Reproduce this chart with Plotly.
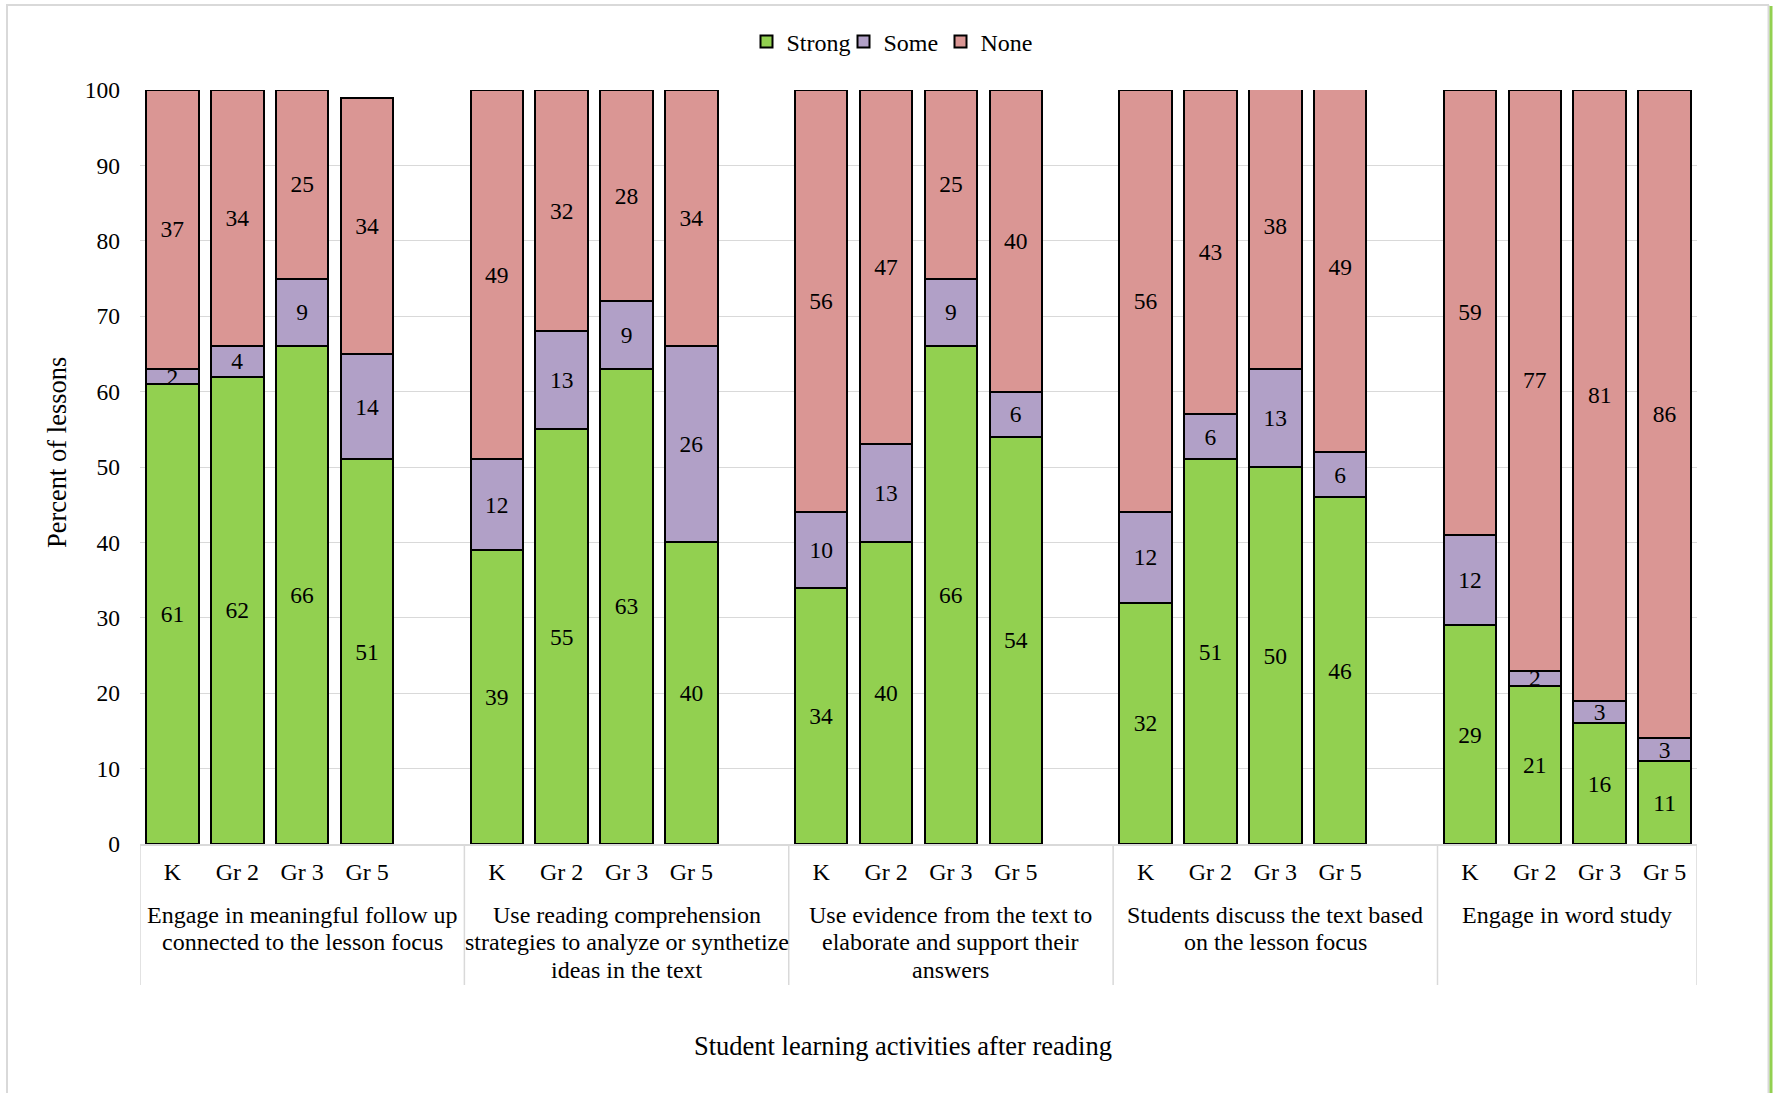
import plotly.graph_objects as go

# ---- data -------------------------------------------------------------
activities = [
    "Engage in meaningful follow up<br>connected to the lesson focus",
    "Use reading comprehension<br>strategies to analyze or synthetize<br>ideas in the text",
    "Use evidence from the text to<br>elaborate and support their<br>answers",
    "Students discuss the text based<br>on the lesson focus",
    "Engage in word study",
]
grades = ["K", "Gr 2", "Gr 3", "Gr 5"]

strong = [
    [61, 62, 66, 51],
    [39, 55, 63, 40],
    [34, 40, 66, 54],
    [32, 51, 50, 46],
    [29, 21, 16, 11],
]
some = [
    [2, 4, 9, 14],
    [12, 13, 9, 26],
    [10, 13, 9, 6],
    [12, 6, 13, 6],
    [12, 2, 3, 3],
]
none_ = [
    [37, 34, 25, 34],
    [49, 32, 28, 34],
    [56, 47, 25, 40],
    [56, 43, 38, 49],
    [59, 77, 81, 86],
]

series = [("Strong", strong, "#92D050"),
          ("Some", some, "#B1A0C7"),
          ("None", none_, "#DA9694")]

# ---- layout constants ---------------------------------------------------
W, H = 1777, 1093
ML, MR, MT, MB = 140, 80, 90, 249
PW, PH = W - ML - MR, H - MT - MB
FONT = "Liberation Serif"
GRID = "#D9D9D9"

def px_x(px):
    return (px - ML) / PW

def px_y(py):
    return (H - MB - py) / PH

# each group takes 4 slots plus one empty slot as a spacer
slot = 5
xs, ticktext = [], []
for g in range(len(activities)):
    for i, gr in enumerate(grades):
        xs.append(g * slot + i)
        ticktext.append(gr)
n_slots = len(activities) * slot - 1

fig = go.Figure()
for name, vals, color in series:
    flat = [v for row in vals for v in row]
    fig.add_trace(go.Bar(
        x=xs, y=flat, name=name,
        marker=dict(color=color, line=dict(color="black", width=2)),
        width=0.81,
        text=[str(v) for v in flat],
        textposition="inside", insidetextanchor="middle",
        textangle=0, constraintext="none",
        insidetextfont=dict(family=FONT, size=23.5, color="black"),
        hoverinfo="skip",
    ))

# boundaries of each group on the category axis
bounds = [-0.5 + min(g * slot, n_slots) for g in range(len(activities) + 1)]

shapes = []
# group dividers below the category axis
for xv in bounds:
    shapes.append(dict(type="line", xref="x", yref="paper",
                       x0=xv, x1=xv, y0=0, y1=px_y(985),
                       line=dict(color=GRID, width=1.5)))
# outer frame
shapes.append(dict(type="line", xref="paper", yref="paper",
                   x0=px_x(7), x1=px_x(7), y0=px_y(5), y1=px_y(H + 5),
                   line=dict(color=GRID, width=2)))
shapes.append(dict(type="line", xref="paper", yref="paper",
                   x0=px_x(6), x1=px_x(1769), y0=px_y(5), y1=px_y(5),
                   line=dict(color=GRID, width=2)))
shapes.append(dict(type="line", xref="paper", yref="paper",
                   x0=px_x(1768.5), x1=px_x(1768.5), y0=px_y(5), y1=px_y(H + 5),
                   line=dict(color=GRID, width=2)))
shapes.append(dict(type="line", xref="paper", yref="paper",
                   x0=px_x(1771), x1=px_x(1771), y0=px_y(6), y1=px_y(H + 5),
                   line=dict(color="#92D050", width=3)))

annotations = []
# group labels, one annotation per line for tighter leading
for g, label in enumerate(activities):
    cx = (bounds[g] + bounds[g + 1]) / 2
    for k, line in enumerate(label.split("<br>")):
        annotations.append(dict(
            x=cx, xref="x", y=px_y(915 + 27.3 * k), yref="paper",
            text=line, showarrow=False, xanchor="center", yanchor="middle",
            font=dict(family=FONT, size=24, color="black")))
# axis titles
annotations.append(dict(
    x=px_x(903), xref="paper", y=px_y(1046), yref="paper",
    text="Student learning activities after reading", showarrow=False,
    xanchor="center", yanchor="middle",
    font=dict(family=FONT, size=26.5, color="black")))
annotations.append(dict(
    x=px_x(57), xref="paper", y=px_y(453), yref="paper",
    text="Percent of lessons", showarrow=False, textangle=-90,
    xanchor="center", yanchor="middle",
    font=dict(family=FONT, size=26.5, color="black")))

fig.update_layout(
    width=W, height=H,
    margin=dict(l=ML, r=MR, t=MT, b=MB),
    barmode="stack",
    plot_bgcolor="white", paper_bgcolor="white",
    font=dict(family=FONT, color="black"),
    legend=dict(orientation="h", x=px_x(892), xanchor="center",
                y=px_y(42), yanchor="middle",
                font=dict(family=FONT, size=24, color="black"),
                itemwidth=30, traceorder="normal",
                entrywidth=52, entrywidthmode="pixels"),
    shapes=shapes,
    annotations=annotations,
    xaxis=dict(range=[-0.5, n_slots - 0.5], tickvals=xs, ticktext=ticktext,
               showgrid=False, zeroline=False, showline=True,
               linecolor=GRID, linewidth=1.5, ticks="",
               ticklabelstandoff=5,
               tickfont=dict(family=FONT, size=24, color="black")),
    yaxis=dict(range=[0, 100], dtick=10, showgrid=True, gridcolor=GRID,
               gridwidth=1.3, zeroline=False, showline=False, ticks="",
               ticklabelstandoff=19,
               tickfont=dict(family=FONT, size=23.5, color="black")),
)

fig.write_html("out.html")
